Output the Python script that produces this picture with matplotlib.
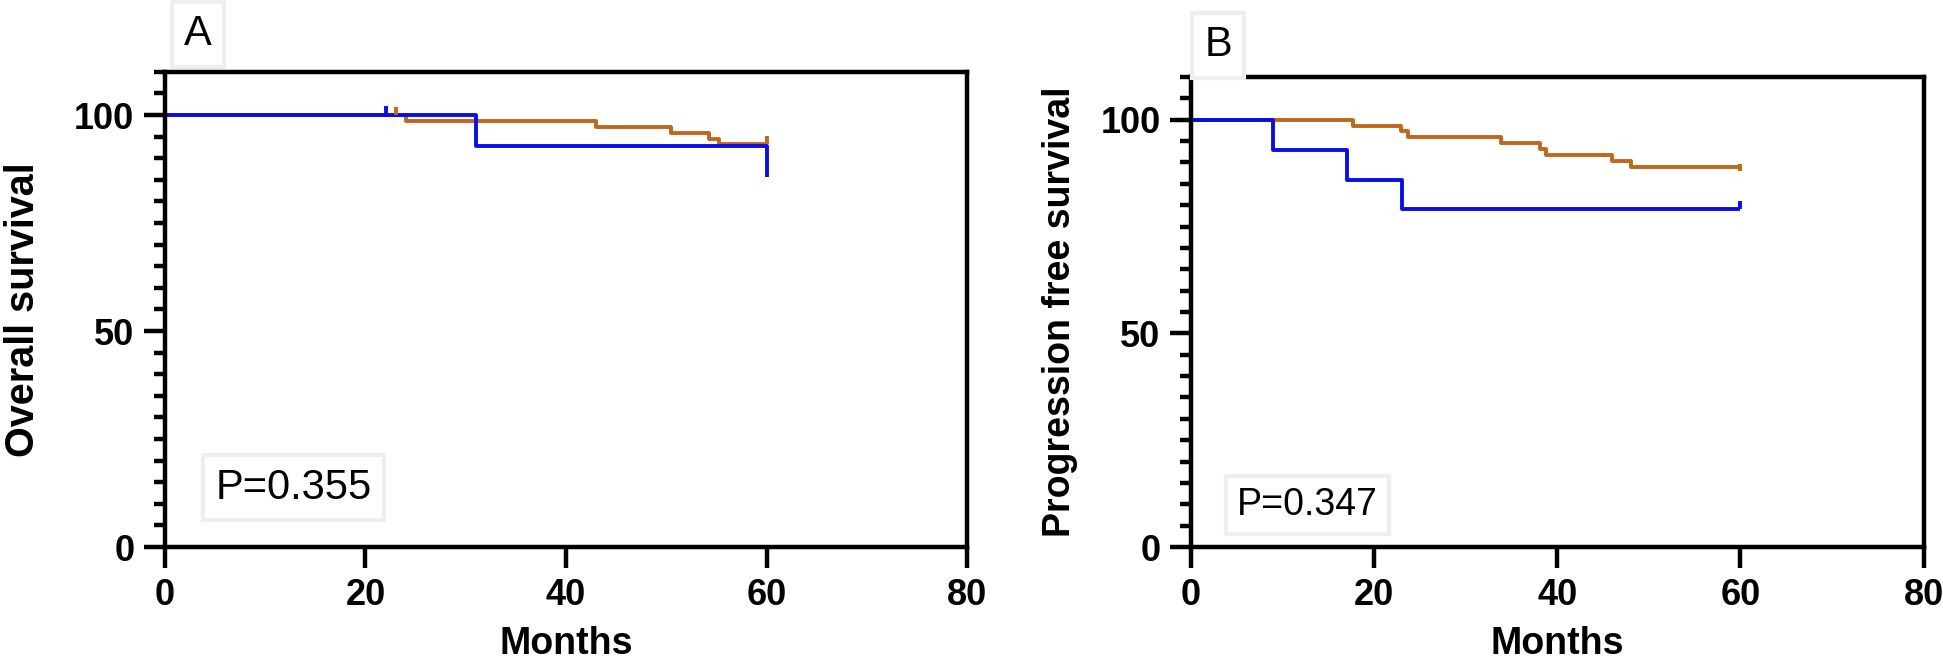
import matplotlib
matplotlib.use("Agg")
import matplotlib.pyplot as plt
from matplotlib.ticker import MultipleLocator

plt.rcParams['font.family'] = ['Liberation Sans', 'DejaVu Sans']

# ---------------- data ----------------
xticks = [0, 20, 40, 60, 80]
yticks = [0, 50, 100]

# Panel A: overall survival
a_orange_t = [0, 24, 43, 50.5, 54.3, 55.3, 60]
a_orange_s = [100, 98.6, 97.3, 95.9, 94.5, 93.2, 93.2]
a_orange_cens_t = [23, 60]
a_orange_cens_s = [100, 93.2]
a_blue_t = [0, 31, 60]
a_blue_s = [100, 92.9, 85.7]
a_blue_cens_t = [22]
a_blue_cens_s = [100]
a_p = "P=0.355"

# Panel B: progression free survival
b_orange_t = [0, 17.7, 22.9, 23.7, 33.9, 38.1, 38.8, 46, 48, 60]
b_orange_s = [100, 98.6, 97.3, 95.9, 94.5, 93.1, 91.7, 90.3, 88.9, 88.9]
b_orange_cens_t = [60]
b_orange_cens_s = [88.9]
b_blue_t = [0, 9, 17, 23, 60]
b_blue_s = [100, 92.9, 85.9, 79.0, 79.0]
b_blue_cens_t = [60]
b_blue_cens_s = [79.0]
b_p = "P=0.347"

BLUE = '#0a0ee6'
ORANGE = '#c2661b'

fig = plt.figure(figsize=(19.43, 6.72), dpi=100)
axA = fig.add_axes([0.0849, 0.186, 0.4128, 0.707])
axB = fig.add_axes([0.613, 0.186, 0.377, 0.6994])


def style(ax, ylabel, ysize):
    ax.set_xlim(0, 80)
    ax.set_ylim(0, 110)
    ax.set_xticks(xticks)
    ax.set_yticks(yticks)
    ax.yaxis.set_minor_locator(MultipleLocator(5))
    for s in ax.spines.values():
        s.set_linewidth(3.2)
    ax.tick_params(axis='both', which='major', direction='out', length=15, width=3.2,
                   labelsize=26, pad=7)
    ax.tick_params(axis='y', which='minor', direction='out', length=8, width=3.2)
    for lab in ax.get_xticklabels() + ax.get_yticklabels():
        lab.set_fontweight('bold')
    ax.set_xlabel('Months', fontsize=27, fontweight='bold', labelpad=10)
    ax.set_ylabel(ylabel, fontsize=ysize, fontweight='bold')


def draw(ax, ot, os_, oct_, ocs, bt, bs, bct, bcs, up_o, up_b):
    ax.step(ot, os_, where='post', color=ORANGE, lw=2.8, solid_capstyle='butt')
    ax.step(bt, bs, where='post', color=BLUE, lw=2.8, solid_capstyle='butt')
    for t, s, u in zip(oct_, ocs, up_o):
        ax.vlines(t, s - u[0], s + u[1], color=ORANGE, lw=2.8)
    for t, s, u in zip(bct, bcs, up_b):
        ax.vlines(t, s - u[0], s + u[1], color=BLUE, lw=2.8)


style(axA, 'Overall survival', 28.5)
draw(axA, a_orange_t, a_orange_s, a_orange_cens_t, a_orange_cens_s,
     a_blue_t, a_blue_s, a_blue_cens_t, a_blue_cens_s,
     [(0, 1.8), (0, 2.0)], [(0, 2.2)])
axA.yaxis.set_label_coords(-0.153, 0.5)

style(axB, 'Progression free survival', 27)
draw(axB, b_orange_t, b_orange_s, b_orange_cens_t, b_orange_cens_s,
     b_blue_t, b_blue_s, b_blue_cens_t, b_blue_cens_s,
     [(0.8, 0.8)], [(0, 2.0)])
axB.yaxis.set_label_coords(-0.154, 0.5)

box = dict(boxstyle='square,pad=0.3', facecolor='white', edgecolor='#eeeeee', linewidth=3)
axA.text(12.8, 13.7, a_p, fontsize=30, ha='center', va='center', bbox=box)
axB.text(12.7, 9.8, b_p, fontsize=27, ha='center', va='center', bbox=box)

fig.text(198 / 1943, 1 - 34 / 672, 'A', fontsize=30, ha='center', va='center', bbox=box)
fig.text(1218 / 1943, 1 - 45 / 672, 'B', fontsize=30, ha='center', va='center', bbox=box)

fig.savefig('out.png', dpi=100, facecolor='white')
